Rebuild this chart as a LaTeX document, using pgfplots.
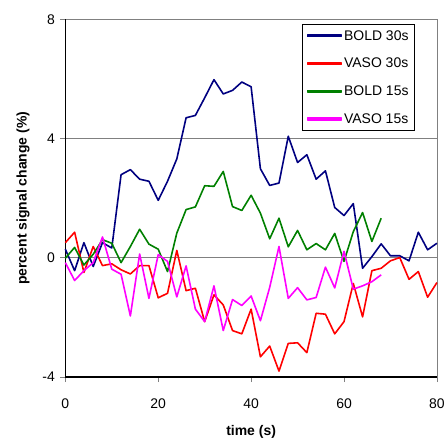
\documentclass[border=0pt]{standalone}
\usepackage{pgfplots}
\pgfplotsset{compat=1.18}
\usepackage{fontspec}
\setmainfont{Liberation Sans}
\definecolor{bnavy}{RGB}{0,0,128}
\definecolor{vred}{RGB}{255,0,0}
\definecolor{bgreen}{RGB}{0,128,0}
\definecolor{vmag}{RGB}{255,0,255}
\definecolor{gridgray}{RGB}{128,128,128}

\pgfplotstableread{
t v
0 0.29
2 -0.43
4 0.51
6 -0.29
8 0.51
10 0.33
12 2.79
14 2.96
16 2.64
18 2.57
20 1.93
22 2.57
24 3.32
26 4.70
28 4.78
30 5.37
32 5.98
34 5.50
36 5.62
38 5.90
40 5.74
42 2.99
44 2.43
46 2.51
48 4.08
50 3.20
52 3.46
54 2.64
56 2.92
58 1.69
60 1.42
62 1.82
64 -0.35
66 0.04
68 0.47
70 0.07
72 0.07
74 -0.10
76 0.86
78 0.27
80 0.49
}\boldthirty

\pgfplotstableread{
t v
0 0.51
2 0.86
4 -0.49
6 0.38
8 -0.26
10 -0.20
12 -0.40
14 -0.54
16 -0.26
18 -0.26
20 -1.34
22 -1.19
24 0.25
26 -1.10
28 -1.02
30 -2.14
32 -1.24
34 -1.58
36 -2.44
38 -2.55
40 -1.72
42 -3.32
44 -2.96
46 -3.80
48 -2.87
50 -2.85
52 -3.18
54 -1.86
56 -1.89
58 -2.55
60 -2.14
62 -0.86
64 -1.98
66 -0.43
68 -0.35
70 -0.10
72 0.01
74 -0.72
76 -0.46
78 -1.32
80 -0.83
}\vasothirty

\pgfplotstableread{
t v
0 -0.01
2 0.35
4 -0.24
6 0.12
8 0.61
10 0.49
12 -0.16
14 0.38
16 0.96
18 0.46
20 0.29
22 -0.46
24 0.83
26 1.62
28 1.71
30 2.42
32 2.40
34 2.90
36 1.72
38 1.59
40 2.10
42 1.50
44 0.64
46 1.33
48 0.37
50 0.92
52 0.27
54 0.48
56 0.27
58 0.82
60 -0.12
62 0.88
64 1.52
66 0.55
68 1.33
}\boldfifteen

\pgfplotstableread{
t v
0 -0.16
2 -0.76
4 -0.43
6 -0.16
8 0.70
10 -0.38
12 -0.55
14 -1.95
16 0.13
18 -1.36
20 0.11
22 -0.12
24 -1.31
26 -0.27
28 -1.72
30 -2.14
32 -0.94
34 -2.44
36 -1.40
38 -1.60
40 -1.28
42 -2.11
44 -0.99
46 0.38
48 -1.36
50 -1.00
52 -1.41
54 -1.33
56 -0.31
58 -1.01
60 0.22
62 -1.05
64 -0.94
66 -0.80
68 -0.57
}\vasofifteen

\begin{document}
\begin{tikzpicture}
\begin{axis}[
  scale only axis,
  width=372.5pt, height=358.5pt,
  xmin=0, xmax=80, ymin=-4, ymax=8,
  xtick={0,20,40,60,80}, xticklabels={0,20,40,60,80},
  ytick={-4,0,4,8}, yticklabels={-4,0,4,8},
  axis x line*=bottom, axis y line*=left,
  x axis line style={-, black, line width=1.3pt},
  y axis line style={-, black, line width=1.3pt},
  ymajorgrids,
  major grid style={gridgray, line width=0.8pt},
  extra x ticks={80}, extra x tick labels={},
  extra x tick style={grid=major, major tick length=0pt},
  tick align=outside,
  major tick length=5pt,
  tick style={gridgray, line width=0.8pt},
  tick label style={font=\fontsize{14}{16}\selectfont},
  yticklabel style={xshift=-2pt},
  xticklabel style={yshift=-13pt},
  xlabel={\bfseries time (s)},
  ylabel={\bfseries percent signal change (\%)},
  label style={font=\fontsize{14}{16}\selectfont\bfseries},
  xlabel style={yshift=-5pt},
  ylabel style={yshift=6pt},
  legend cell align=left,
  legend style={at={(rel axis cs:0.638,0.987)}, anchor=north west,
    font=\fontsize{14}{16}\selectfont,
    row sep=12.5pt, inner sep=4pt},
  clip=false,
]
\addplot[bnavy, line width=1.6pt, line join=round, no markers,
  legend image code/.code={\fill[bnavy] (0pt,-0.8pt) rectangle (34pt,0.8pt);}]
  table[x=t,y=v] {\boldthirty};
\addplot[vred, line width=1.6pt, line join=round, no markers,
  legend image code/.code={\fill[vred] (0pt,-0.8pt) rectangle (34pt,0.8pt);}]
  table[x=t,y=v] {\vasothirty};
\addplot[bgreen, line width=1.6pt, line join=round, no markers,
  legend image code/.code={\fill[bgreen] (0pt,-0.8pt) rectangle (34pt,0.8pt);}]
  table[x=t,y=v] {\boldfifteen};
\addplot[vmag, line width=1.6pt, line join=round, no markers,
  legend image code/.code={\fill[vmag] (0pt,-0.8pt) rectangle (34pt,0.8pt);}]
  table[x=t,y=v] {\vasofifteen};
\legend{BOLD 30s, VASO 30s, BOLD 15s, VASO 15s}
\end{axis}
\path (-65.5pt,-63pt) rectangle (382.5pt,378pt);
\end{tikzpicture}
\end{document}
